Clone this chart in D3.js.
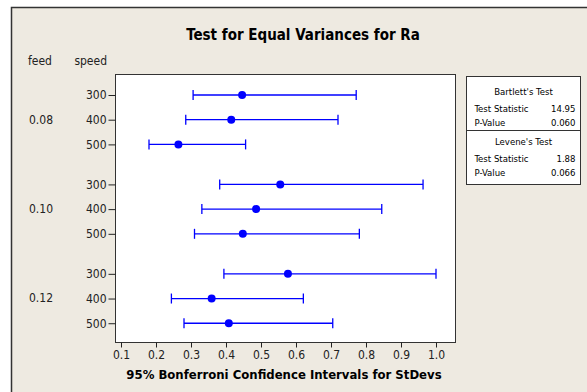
<!DOCTYPE html>
<html>
<head>
<meta charset="utf-8">
<script src="https://cdn.jsdelivr.net/npm/d3@7"></script>
<style>
  html, body { margin: 0; padding: 0; background: #fff; }
  svg { display: block; }
</style>
</head>
<body>
<svg id="chart"></svg>
<script>
// Test for equal variances - Bonferroni CIs for StDevs (Minitab style)

const FEEDS  = ["0.08", "0.10", "0.12"];
const SPEEDS = ["300", "400", "500"];

// per feed group, per speed: lower, sigma, upper
const LOWER = [0.306, 0.285, 0.180,  0.382, 0.331, 0.310,  0.394, 0.244, 0.280];
const SIGMA = [0.446, 0.415, 0.264,  0.555, 0.486, 0.448,  0.577, 0.359, 0.408];
const UPPER = [0.772, 0.720, 0.456,  0.963, 0.845, 0.781,  1.000, 0.621, 0.705];

const X_TICKS = [0.1, 0.2, 0.3, 0.4, 0.5, 0.6, 0.7, 0.8, 0.9, 1.0];

const BARTLETT = [["Test Statistic", "14.95"], ["P-Value", "0.060"]];
const LEVENE   = [["Test Statistic", "1.88"],  ["P-Value", "0.066"]];

const W = 587, H = 392;
const FONT = "'DejaVu Sans Condensed', 'DejaVu Sans', sans-serif";
const BG = "#EEEAE1";
const BLUE = "#0000FF";
const INK = "#222";

const svg = d3.select("#chart").attr("width", W).attr("height", H);

// ── Frame ─────────────────────────────────────────────────────
svg.append("rect").attr("x", 0).attr("y", 0).attr("width", W).attr("height", H).attr("fill", "#fff");
svg.append("rect")
  .attr("x", 11.5).attr("y", 7.5).attr("width", W + 10).attr("height", H + 10)
  .attr("fill", BG).attr("stroke", "#333").attr("stroke-width", 1.5);

// ── Plot area ─────────────────────────────────────────────────
const plot = { left: 115.5, right: 455.5, top: 74.5, bottom: 342.5 };

const x = d3.scaleLinear().domain([0.1, 1.0]).range([121, 436]);

// rows: three speeds inside each feed group, with a wider gap between groups
const GROUP_STEP = 3.62;
const rows = [];
FEEDS.forEach((f, gi) => SPEEDS.forEach((s, si) => {
  const i = gi * SPEEDS.length + si;
  rows.push({ feed: f, speed: s, slot: gi * GROUP_STEP + si,
              lo: LOWER[i], sd: SIGMA[i], hi: UPPER[i] });
}));
const y = d3.scaleLinear()
  .domain([-0.83, 2 * GROUP_STEP + 2 + 0.78])
  .range([plot.top, plot.bottom]);

svg.append("rect")
  .attr("x", plot.left).attr("y", plot.top)
  .attr("width", plot.right - plot.left).attr("height", plot.bottom - plot.top)
  .attr("fill", "#fff").attr("stroke", "#333").attr("stroke-width", 1);

// ── Title ─────────────────────────────────────────────────────
svg.append("text")
  .attr("x", 303).attr("y", 40).attr("text-anchor", "middle")
  .attr("font-family", FONT).attr("font-size", "15px").attr("font-weight", "bold")
  .attr("fill", "#000")
  .text("Test for Equal Variances for Ra");

// ── X axis ────────────────────────────────────────────────────
svg.append("g")
  .attr("transform", `translate(0,${plot.bottom})`)
  .call(d3.axisBottom(x).tickValues(X_TICKS).tickFormat(d3.format(".1f")).tickSize(5).tickPadding(3))
  .call(g => g.select(".domain").remove())
  .call(g => g.selectAll(".tick line").attr("stroke", INK))
  .call(g => g.selectAll("text").attr("fill", INK)
    .attr("font-family", FONT).attr("font-size", "12px"));

svg.append("text")
  .attr("x", 284).attr("y", 379).attr("text-anchor", "middle")
  .attr("font-family", FONT).attr("font-size", "13px").attr("font-weight", "bold")
  .attr("fill", "#000")
  .text("95% Bonferroni Confidence Intervals for StDevs");

// ── Y axis (speed) and feed labels ────────────────────────────
svg.append("g")
  .attr("transform", `translate(${plot.left},0)`)
  .call(d3.axisLeft(y).tickValues(rows.map(r => r.slot))
    .tickFormat((d, i) => rows[i].speed).tickSize(7).tickPadding(2))
  .call(g => g.select(".domain").remove())
  .call(g => g.selectAll(".tick line").attr("stroke", INK))
  .call(g => g.selectAll("text").attr("fill", INK)
    .attr("font-family", FONT).attr("font-size", "12px"));

svg.append("text")
  .attr("x", 28).attr("y", 65)
  .attr("font-family", FONT).attr("font-size", "12px").attr("fill", INK)
  .text("feed");
svg.append("text")
  .attr("x", 107).attr("y", 65).attr("text-anchor", "end")
  .attr("font-family", FONT).attr("font-size", "12px").attr("fill", INK)
  .text("speed");

FEEDS.forEach((f, gi) => {
  svg.append("text")
    .attr("x", 41).attr("y", y(gi * GROUP_STEP + 1)).attr("dy", "0.32em")
    .attr("text-anchor", "middle")
    .attr("font-family", FONT).attr("font-size", "12px").attr("fill", INK)
    .text(f);
});

// ── Intervals ─────────────────────────────────────────────────
const bars = svg.append("g").selectAll("g").data(rows).join("g");
bars.append("line")
  .attr("x1", d => x(d.lo)).attr("x2", d => x(d.hi))
  .attr("y1", d => y(d.slot)).attr("y2", d => y(d.slot))
  .attr("stroke", BLUE).attr("stroke-width", 1.3);
["lo", "hi"].forEach(k => {
  bars.append("line")
    .attr("x1", d => x(d[k])).attr("x2", d => x(d[k]))
    .attr("y1", d => y(d.slot) - 5).attr("y2", d => y(d.slot) + 5)
    .attr("stroke", BLUE).attr("stroke-width", 1.3);
});
bars.append("circle")
  .attr("cx", d => x(d.sd)).attr("cy", d => y(d.slot)).attr("r", 4)
  .attr("fill", BLUE);

// ── Test results box ──────────────────────────────────────────
const box = { x: 466.5, y: 76.5, w: 114, h: 108, split: 130.5 };
svg.append("rect")
  .attr("x", box.x).attr("y", box.y).attr("width", box.w).attr("height", box.h)
  .attr("fill", "#fff").attr("stroke", "#333").attr("stroke-width", 1);
svg.append("line")
  .attr("x1", box.x).attr("x2", box.x + box.w)
  .attr("y1", box.split).attr("y2", box.split)
  .attr("stroke", "#333").attr("stroke-width", 1);

function testBlock(title, items, top) {
  svg.append("text")
    .attr("x", box.x + box.w / 2).attr("y", top)
    .attr("text-anchor", "middle")
    .attr("font-family", FONT).attr("font-size", "9.5px").attr("fill", "#000")
    .text(title);
  items.forEach(([label, val], i) => {
    const ty = top + 17 + i * 14;
    svg.append("text")
      .attr("x", box.x + 8).attr("y", ty)
      .attr("font-family", FONT).attr("font-size", "9.5px").attr("fill", "#000")
      .text(label);
    svg.append("text")
      .attr("x", box.x + box.w - 5).attr("y", ty).attr("text-anchor", "end")
      .attr("font-family", FONT).attr("font-size", "9.5px").attr("fill", "#000")
      .text(val);
  });
}
testBlock("Bartlett's Test", BARTLETT, 95);
testBlock("Levene's Test", LEVENE, 145);
</script>
</body>
</html>
